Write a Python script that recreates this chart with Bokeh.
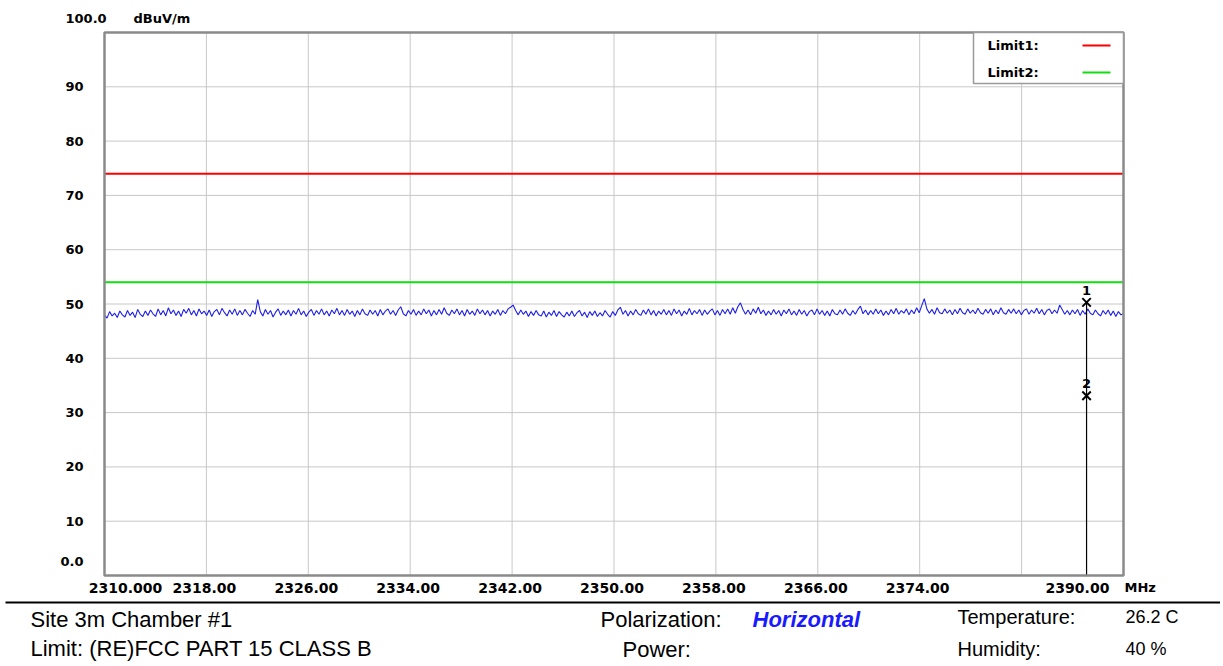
import numpy as np
from bokeh.plotting import figure
from bokeh.models import Range1d
from bokeh.embed import file_html
from bokeh.resources import INLINE
from bokeh.core.properties import value

# ---------------- data ----------------
F_START, F_STOP = 2310.0, 2390.0
Y_MIN, Y_MAX = 0.0, 100.0
x_grid = [2318, 2326, 2334, 2342, 2350, 2358, 2366, 2374, 2382]
y_ticks = [10, 20, 30, 40, 50, 60, 70, 80, 90]
y_tick_labels = ["10", "20", "30", "40", "50", "60", "70", "80", "90"]
x_tick_values = [2310, 2318, 2326, 2334, 2342, 2350, 2358, 2366, 2374, 2390]
x_tick_labels = ["2310.000", "2318.00", "2326.00", "2334.00", "2342.00",
                 "2350.00", "2358.00", "2366.00", "2374.00", "2390.00"]
unit_x = "MHz"
unit_y = "dBuV/m"
limit1 = 74.0
limit2 = 54.0
levels = [
    48.0, 47.4, 48.6, 47.8, 48.3, 47.5, 48.7, 48.0, 47.6, 48.8, 47.9, 48.5, 47.5, 49.0, 48.1, 47.7, 48.7, 47.9, 48.9, 48.2,
    47.7, 49.1, 48.0, 48.8, 47.8, 49.3, 48.2, 48.9, 47.9, 48.7, 47.7, 49.0, 48.3, 49.2, 48.0, 48.8, 47.8, 49.1, 48.2, 48.7,
    47.9, 48.9, 47.7, 48.6, 49.0, 48.0, 49.2, 48.4, 47.8, 48.9, 48.1, 49.1, 47.9, 48.8, 48.0, 49.0, 48.3, 47.7, 48.8, 48.1,
    50.8, 48.6, 47.8, 49.0, 48.1, 48.8, 47.6, 48.5, 49.1, 47.9, 48.7, 48.0, 48.9, 47.8, 48.8, 48.1, 49.2, 48.0, 48.7, 47.7,
    48.5, 49.0, 47.9, 48.8, 48.1, 49.1, 48.0, 48.7, 47.8, 48.9, 48.2, 49.2, 48.0, 48.8, 47.9, 49.0, 48.1, 48.7, 47.7, 48.8,
    48.0, 49.1, 48.2, 47.9, 48.9, 48.1, 48.8, 47.8, 49.0, 48.0, 48.7, 49.1, 48.1, 48.8, 47.9, 48.9, 49.5, 48.2, 47.8, 48.8,
    48.1, 49.0, 47.9, 48.7, 48.0, 49.1, 48.2, 48.9, 47.8, 48.8, 48.0, 49.0, 48.1, 49.3, 48.3, 47.9, 48.9, 48.2, 49.1, 48.0,
    48.8, 47.8, 49.0, 48.1, 48.7, 47.9, 49.1, 48.2, 48.9, 48.0, 48.8, 47.8, 48.7, 48.1, 49.0, 47.9, 48.8, 48.2, 49.1, 49.4,
    49.8, 48.8, 48.0, 48.9, 48.1, 48.7, 47.7, 48.6, 47.9, 48.8, 48.0, 47.8, 48.7, 47.6, 48.5, 47.9, 48.8, 47.7, 48.6, 48.0,
    47.6, 48.5, 47.8, 48.7, 47.7, 48.4, 48.8, 47.8, 48.5, 47.5, 48.6, 47.9, 48.7, 47.7, 48.4, 47.8, 48.8, 48.1, 47.6, 48.6,
    47.9, 48.9, 49.4, 48.1, 48.8, 47.8, 48.7, 48.0, 49.0, 48.2, 47.9, 48.9, 48.1, 49.1, 48.0, 48.8, 47.8, 48.7, 48.1, 49.0,
    48.0, 48.8, 47.9, 49.1, 48.2, 48.9, 47.8, 48.7, 48.1, 49.2, 48.0, 48.8, 48.2, 49.0, 47.9, 48.9, 48.1, 48.7, 49.1, 48.0,
    48.8, 47.9, 49.0, 48.2, 49.1, 48.1, 49.3, 48.3, 49.5, 50.2, 49.0, 48.1, 48.9, 48.0, 49.1, 48.3, 49.4, 48.2, 48.9, 47.9,
    48.7, 48.0, 49.0, 48.1, 48.8, 47.8, 48.9, 48.2, 49.1, 48.0, 48.7, 47.9, 49.0, 48.1, 48.8, 47.8, 48.6, 48.9, 48.0, 49.1,
    48.1, 48.8, 47.9, 48.7, 47.8, 49.0, 48.2, 48.0, 48.9, 48.1, 49.1, 48.3, 47.9, 48.8, 48.1, 49.0, 49.6, 48.2, 48.9, 48.0,
    48.8, 48.1, 49.1, 48.2, 48.9, 47.9, 48.7, 48.0, 49.0, 48.2, 49.2, 48.1, 48.8, 48.3, 49.1, 48.0, 48.9, 48.2, 49.3, 48.4,
    49.7, 51.0, 49.1, 48.3, 49.0, 48.1, 49.3, 48.4, 48.2, 49.1, 48.3, 48.9, 48.0, 49.0, 48.2, 49.2, 48.4, 48.1, 49.1, 48.3,
    48.9, 48.2, 49.2, 48.4, 48.1, 49.0, 48.3, 49.1, 48.0, 48.9, 48.2, 49.3, 48.4, 48.1, 49.0, 48.3, 49.1, 48.2, 48.9, 48.0,
    48.8, 49.1, 48.1, 48.9, 48.3, 49.2, 48.2, 49.0, 48.0, 48.8, 49.1, 48.2, 48.9, 48.3, 49.8, 49.0, 48.1, 48.8, 48.0, 48.9,
    48.2, 49.0, 47.9, 48.8, 48.1, 49.1, 48.3, 48.0, 48.9, 48.2, 47.8, 48.8, 48.1, 48.9, 47.9, 48.7, 47.7, 48.6, 48.0, 48.2,
]
marker_freq = [2387.1, 2387.1]
marker_level = [50.3, 33.1]
marker_ids = ["1", "2"]
legend_names = ["Limit1:", "Limit2:"]
legend_colors = ["#ff0000", "#11dd11"]
site_text = "Site  3m Chamber #1"
limit_text = "Limit: (RE)FCC PART 15 CLASS B"
polarization_label = "Polarization:"
polarization_value = "Horizontal"
power_label = "Power:"
temp_label, temp_value = "Temperature:", "26.2 C"
hum_label, hum_value = "Humidity:", "40 %"

# ---------------- layout (pixels of the canvas) ----------------
W, H = 1220, 664
FRAME_L, FRAME_T, FRAME_W, FRAME_H = 104, 32, 1019, 543
PPX = FRAME_W / (F_STOP - F_START)
PPY = FRAME_H / (Y_MAX - Y_MIN)


def fx(px):  # canvas pixel -> frequency
    return F_START + (px - FRAME_L) / PPX


def fy(py):  # canvas pixel -> level
    return Y_MAX - (py - FRAME_T) / PPY


TICK_FONT = value("DejaVu Sans")
SANS = value("Liberation Sans")

p = figure(width=W, height=H, x_range=Range1d(fx(0), fx(W)), y_range=Range1d(fy(H), fy(0)),
           output_backend="svg", toolbar_location=None,
           min_border_left=0, min_border_right=0, min_border_top=0, min_border_bottom=0)
p.axis.visible = False
p.grid.visible = False
p.outline_line_color = None
p.background_fill_color = "white"
p.border_fill_color = "white"

# grid lines, confined to the plot area
p.segment(x0=x_grid, x1=x_grid, y0=[Y_MIN] * len(x_grid), y1=[Y_MAX] * len(x_grid),
          line_color="#c8c8c8", line_width=1)
p.segment(x0=[F_START] * len(y_ticks), x1=[F_STOP] * len(y_ticks), y0=y_ticks, y1=y_ticks,
          line_color="#c8c8c8", line_width=1)

# limits
p.line([F_START, F_STOP], [limit1, limit1], line_color=legend_colors[0], line_width=2)
p.line([F_START, F_STOP], [limit2, limit2], line_color=legend_colors[1], line_width=2)

# trace
freqs = np.linspace(F_START, F_STOP, len(levels))
p.line(freqs, levels, line_color="#1f1fe6", line_width=1.1)

# markers
p.segment(x0=[marker_freq[0]], y0=[marker_level[0]], x1=[marker_freq[0]], y1=[Y_MIN],
          line_color="black", line_width=1.2)
p.scatter(marker_freq, marker_level, marker="x", size=12, line_color="black", line_width=2)
p.text(x=marker_freq, y=[lv + 12 / PPY for lv in marker_level], text=marker_ids,
       text_align="center", text_baseline="middle", text_font=TICK_FONT,
       text_font_size="13px", text_font_style="bold", text_color="black")

# plot frame
p.quad(left=[F_START], right=[F_STOP], bottom=[Y_MIN], top=[Y_MAX], fill_color=None,
       line_color="#8a8a8a", line_width=2.5)

# legend box
p.quad(left=[fx(973)], right=[F_STOP], bottom=[fy(83)], top=[Y_MAX], fill_color="white",
       line_color="#9a9a9a", line_width=1.5)
for i, (nm, col) in enumerate(zip(legend_names, legend_colors)):
    py = 45 + i * 27
    p.text(x=[fx(987)], y=[fy(py)], text=[nm], text_align="left", text_baseline="middle",
           text_font=TICK_FONT, text_font_size="13px", text_font_style="bold", text_color="black")
    p.segment(x0=[fx(1082)], x1=[fx(1110)], y0=[fy(py)], y1=[fy(py)], line_color=col, line_width=2)

# y tick labels
p.text(x=[fx(83)] * len(y_ticks), y=y_ticks, text=y_tick_labels, text_align="right",
       text_baseline="middle", text_font=TICK_FONT, text_font_size="13px",
       text_font_style="bold", text_color="black")
p.text(x=[fx(65)], y=[fy(17.5)], text=["100.0"], text_align="left", text_baseline="middle",
       text_font=TICK_FONT, text_font_size="13px", text_font_style="bold", text_color="black")
p.text(x=[fx(133)], y=[fy(17.5)], text=[unit_y], text_align="left", text_baseline="middle",
       text_font=TICK_FONT, text_font_size="13px", text_font_style="bold", text_color="black")
p.text(x=[fx(83)], y=[fy(561)], text=["0.0"], text_align="right", text_baseline="middle",
       text_font=TICK_FONT, text_font_size="13px", text_font_style="bold", text_color="black")

# x tick labels (pixel nudges mimic the instrument's label placement)
x_nudge = {2310: 21, 2390: -46}
p.text(x=[v + x_nudge.get(v, -2) / PPX for v in x_tick_values], y=[fy(587)] * len(x_tick_values),
       text=x_tick_labels, text_align="center", text_baseline="middle", text_font=TICK_FONT,
       text_font_size="14px", text_font_style="bold", text_color="black")
p.text(x=[fx(1124)], y=[fy(587)], text=[unit_x], text_align="left", text_baseline="middle",
       text_font=TICK_FONT, text_font_size="13px", text_font_style="bold", text_color="black")

# ---------------- info strip ----------------
p.segment(x0=[fx(5)], y0=[fy(602)], x1=[fx(W + 5)], y1=[fy(602)], line_color="black", line_width=2)
p.text(x=[fx(30), fx(30), fx(600), fx(622)], y=[fy(619), fy(648), fy(619), fy(649)],
       text=[site_text, limit_text, polarization_label, power_label], text_align="left",
       text_baseline="middle", text_font=SANS, text_font_size="22px", text_color="black")
p.text(x=[fx(752)], y=[fy(619)], text=[polarization_value], text_align="left",
       text_baseline="middle", text_font=SANS, text_font_size="22px",
       text_font_style="bold italic", text_color="#1a1aff")
p.text(x=[fx(957), fx(957)], y=[fy(616), fy(648)], text=[temp_label, hum_label], text_align="left",
       text_baseline="middle", text_font=SANS, text_font_size="20px", text_color="black")
p.text(x=[fx(1125), fx(1125)], y=[fy(616), fy(648)], text=[temp_value, hum_value], text_align="left",
       text_baseline="middle", text_font=SANS, text_font_size="18px", text_color="black")

open("out.html", "w").write(file_html(p, INLINE))
